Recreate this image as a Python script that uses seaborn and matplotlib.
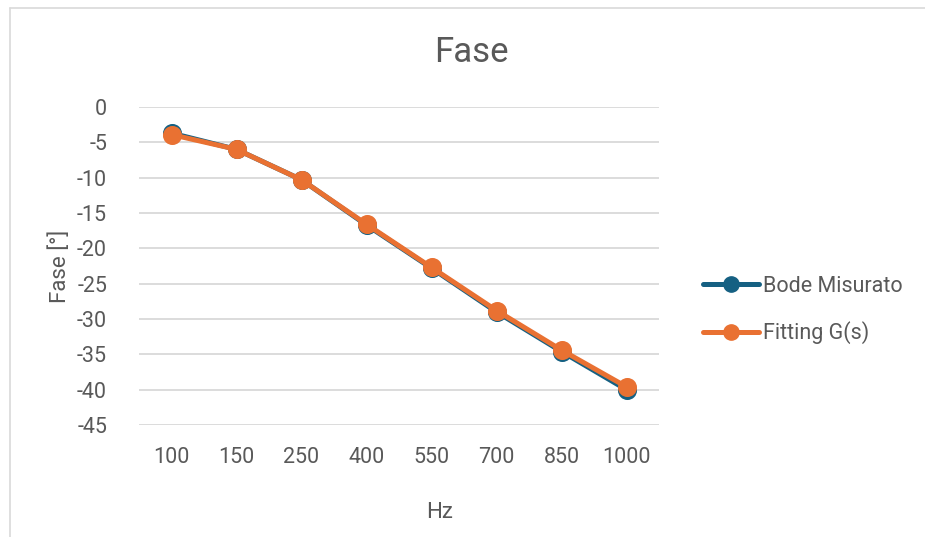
import matplotlib
matplotlib.use("Agg")
import matplotlib.pyplot as plt
from matplotlib.lines import Line2D
import seaborn as sns
import pandas as pd

# Frequency points (categorical axis) and measured / fitted phase in degrees
freq_labels = ["100", "150", "250", "400", "550", "700", "850", "1000"]
bode_measured = [-3.7, -6.0, -10.3, -16.7, -22.8, -29.0, -34.6, -40.0]
fitting_gs = [-3.9, -6.0, -10.3, -16.6, -22.7, -28.8, -34.4, -39.6]
series_names = ["Bode Misurato", "Fitting G(s)"]
y_ticks = [0, -5, -10, -15, -20, -25, -30, -35, -40, -45]

df = pd.DataFrame({
    "Hz": freq_labels * 2,
    "Fase": bode_measured + fitting_gs,
    "Serie": [series_names[0]] * len(freq_labels) + [series_names[1]] * len(freq_labels),
})

sns.set_theme(style="white")
plt.rcParams["font.family"] = ["Roboto", "DejaVu Sans"]
plt.rcParams["axes.unicode_minus"] = False

text_color = "#595959"
grid_color = "#D9D9D9"
palette = {series_names[0]: "#156082", series_names[1]: "#E97132"}

fig = plt.figure(figsize=(9.25, 5.37), dpi=100)
W, H = 925, 537
ax = fig.add_axes([139 / W, 1 - 425 / H, (659 - 139) / W, (425 - 107) / H])

sns.pointplot(
    data=df, x="Hz", y="Fase", hue="Serie", order=freq_labels,
    hue_order=series_names, palette=palette, markers="o",
    markersize=11, linewidth=3.6, ax=ax, legend=False,
)

ax.set_ylim(-45, 0)
ax.set_xlim(-0.5, len(freq_labels) - 0.5)
ax.set_yticks(y_ticks)
ax.set_yticklabels([str(v) for v in y_ticks])
ax.yaxis.grid(True, color=grid_color, linewidth=1.3)
ax.set_axisbelow(True)
for s in ax.spines.values():
    s.set_visible(False)
ax.tick_params(axis="both", length=0, labelsize=15.5, colors=text_color)
ax.tick_params(axis="y", pad=23)
ax.tick_params(axis="x", pad=16)
ax.set_xlabel("")
ax.set_ylabel("")

# Titles
fig.text(471 / W, 1 - 52 / H, "Fase", ha="center", va="center",
         fontsize=25, color=text_color)
fig.text(440 / W, 1 - 512 / H, "Hz", ha="center", va="center",
         fontsize=16, color=text_color)
fig.text(60 / W, 1 - 266 / H, "Fase [°]", ha="center", va="center",
         rotation=90, fontsize=16, color=text_color)

# Legend on the right
handles = [
    Line2D([], [], color=palette[n], marker="o", markersize=11, linewidth=3.6)
    for n in series_names
]
fig.legend(
    handles, series_names, loc="center left",
    bbox_to_anchor=(684 / W, 1 - 310 / H), frameon=False,
    fontsize=15.5, labelcolor=text_color, handlelength=2.6,
    handletextpad=0.15, labelspacing=1.15,
)

# Chart area border
fig.add_artist(Line2D([10 / W, 10 / W], [0, 1 - 8 / H], color=grid_color,
                      linewidth=1.2, transform=fig.transFigure))
fig.add_artist(Line2D([10 / W, 1], [1 - 8 / H, 1 - 8 / H], color=grid_color,
                      linewidth=1.2, transform=fig.transFigure))

fig.savefig("out.png", dpi=100, facecolor="white")
